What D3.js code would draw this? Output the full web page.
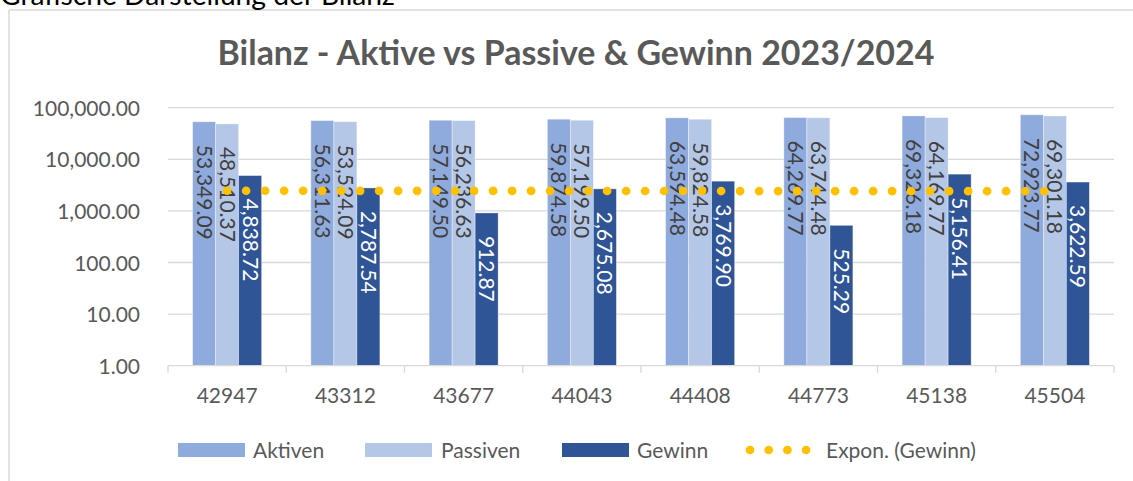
<!DOCTYPE html>
<html>
<head>
<meta charset="utf-8">
<script src="https://cdn.jsdelivr.net/npm/d3@7"></script>
<style>
  html, body { margin: 0; padding: 0; background: #ffffff; overflow: hidden; }
  svg { display: block; font-family: Lato, "Open Sans", sans-serif; }
</style>
</head>
<body>
<svg id="chart" width="1133" height="481"></svg>
<script>
// ---- data ----
const categories = ["42947", "43312", "43677", "44043", "44408", "44773", "45138", "45504"];
const aktiven  = [53349.09, 56311.63, 57149.50, 59874.58, 63594.48, 64269.77, 69326.18, 72923.77];
const passiven = [48510.37, 53524.09, 56236.63, 57199.50, 59824.58, 63744.48, 64169.77, 69301.18];
const gewinn   = [4838.72, 2787.54, 912.87, 2675.08, 3769.90, 525.29, 5156.41, 3622.59];
const seriesNames = ["Aktiven", "Passiven", "Gewinn"];
const yTicks = [1, 10, 100, 1000, 10000, 100000];
const trendName = "Expon. (Gewinn)";
const titleText = "Bilanz - Aktive vs Passive & Gewinn 2023/2024";
const captionText = "Grafische Darstellung der Bilanz";

// ---- styles ----
const colors = { Aktiven: "#8FAADC", Passiven: "#B4C7E7", Gewinn: "#2F5597" };
const labelColors = { Aktiven: "#404040", Passiven: "#404040", Gewinn: "#ffffff" };
const trendColor = "#FFC000";
const textColor = "#595959";
const gridColor = "#d9d9d9";

const seriesValues = { Aktiven: aktiven, Passiven: passiven, Gewinn: gewinn };

const svg = d3.select("#chart");
const plot = { left: 168, right: 1114, top: 107.7, bottom: 365.7 };

// chart frame: only left and top edges are inside the window
svg.append("line").attr("x1", 9).attr("x2", 1133).attr("y1", 10).attr("y2", 10)
  .attr("stroke", gridColor).attr("stroke-width", 1.5);
svg.append("line").attr("x1", 9).attr("x2", 9).attr("y1", 10).attr("y2", 481)
  .attr("stroke", gridColor).attr("stroke-width", 1.5);

// caption above chart (cut off at top, as in the reference)
const cap = svg.append("text")
  .attr("x", 0).attr("y", 5)
  .attr("fill", "#000000")
  .style("font-size", "22px")
  .text(captionText);
{
  const w = cap.node().getComputedTextLength();
  cap.style("font-size", (22 * 395 / w) + "px");
}

// title
const title = svg.append("text")
  .attr("x", 576).attr("y", 65)
  .attr("text-anchor", "middle")
  .attr("fill", textColor)
  .style("font-size", "30px").style("font-weight", "bold")
  .text(titleText);
{
  const w = title.node().getComputedTextLength();
  title.style("font-size", (30 * 717 / w) + "px");
}

// scales
const x0 = d3.scaleBand().domain(categories).range([plot.left, plot.right]).padding(0);
const x1 = d3.scaleBand().domain(seriesNames).range([0, x0.bandwidth()])
  .paddingInner(0).paddingOuter(1.07);
const y = d3.scaleLog().domain([1, 100000]).range([plot.bottom, plot.top]);

// gridlines
svg.append("g").selectAll("line")
  .data(yTicks.filter(t => t > 1))
  .join("line")
  .attr("x1", plot.left).attr("x2", plot.right)
  .attr("y1", d => y(d)).attr("y2", d => y(d))
  .attr("stroke", gridColor).attr("stroke-width", 1.3);

// y axis labels
const yAxis = d3.axisLeft(y).tickValues(yTicks)
  .tickFormat(d3.format(",.2f")).tickSize(0).tickPadding(0);
const gy = svg.append("g").attr("transform", `translate(${plot.left - 28},0)`).call(yAxis);
gy.select(".domain").remove();
gy.selectAll("text").attr("fill", textColor).style("font-size", "21px")
  .style("font-family", "Lato, 'Open Sans', sans-serif").attr("dy", "0.36em");

// bars
const groups = svg.append("g").selectAll("g")
  .data(categories)
  .join("g")
  .attr("transform", d => `translate(${x0(d)},0)`);

groups.selectAll("rect")
  .data((c, i) => seriesNames.map(s => ({ s, v: seriesValues[s][i] })))
  .join("rect")
  .attr("x", d => x1(d.s))
  .attr("width", x1.bandwidth())
  .attr("y", d => y(d.v))
  .attr("height", d => plot.bottom - y(d.v))
  .attr("fill", d => colors[d.s])
  .attr("stroke", "#ffffff").attr("stroke-opacity", 0.45).attr("stroke-width", 0.8);

// x axis
const xAxis = d3.axisBottom(x0).tickSize(0).tickPadding(0);
const gx = svg.append("g").attr("transform", `translate(0,${plot.bottom})`).call(xAxis);
gx.select(".domain").remove();
gx.selectAll("text").attr("fill", textColor).style("font-size", "21px")
  .style("font-family", "Lato, 'Open Sans', sans-serif")
  .attr("y", 30).attr("dy", "0.36em");
svg.append("line")
  .attr("x1", plot.left).attr("x2", plot.right)
  .attr("y1", plot.bottom).attr("y2", plot.bottom)
  .attr("stroke", gridColor).attr("stroke-width", 1.3);
const boundaries = categories.map(c => x0(c)).concat([x0(categories[categories.length - 1]) + x0.bandwidth()]);
svg.append("g").selectAll("line").data(boundaries).join("line")
  .attr("x1", d => d).attr("x2", d => d)
  .attr("y1", plot.bottom).attr("y2", plot.bottom + 7)
  .attr("stroke", gridColor).attr("stroke-width", 1.3);

// trendline (exponential least-squares fit on Gewinn)
const n = gewinn.length;
const xs = d3.range(1, n + 1);
const lys = gewinn.map(v => Math.log(v));
const mx = d3.mean(xs), my = d3.mean(lys);
const slope = d3.sum(xs, (xv, i) => (xv - mx) * (lys[i] - my)) / d3.sum(xs, xv => (xv - mx) ** 2);
const intercept = my - slope * mx;
const trend = xs.map((xv, i) => ({ c: categories[i], v: Math.exp(intercept + slope * xv) }));

const line = d3.line()
  .x(d => x0(d.c) + x0.bandwidth() / 2)
  .y(d => y(d.v));

// data labels
groups.selectAll("text.lbl")
  .data((c, i) => seriesNames.map(s => ({ s, v: seriesValues[s][i] })))
  .join("text")
  .attr("class", "lbl")
  .attr("transform", d => `translate(${x1(d.s) + x1.bandwidth() / 2},${y(d.v) + 23}) rotate(90)`)
  .attr("dy", "0.36em")
  .attr("fill", d => labelColors[d.s])
  .style("font-size", "21px")
  .text(d => d3.format(",.2f")(d.v));

svg.append("path")
  .datum(trend)
  .attr("d", line)
  .attr("fill", "none")
  .attr("stroke", trendColor)
  .attr("stroke-width", 8.7)
  .attr("stroke-linecap", "round")
  .attr("stroke-dasharray", "0 19");

// legend
const legY = 450;
const legendItems = [
  { name: "Aktiven", x: 178, tx: 253 },
  { name: "Passiven", x: 365, tx: 441 },
  { name: "Gewinn", x: 562, tx: 637 }
];
const leg = svg.append("g");
legendItems.forEach(it => {
  leg.append("rect").attr("x", it.x).attr("y", legY - 7).attr("width", 67).attr("height", 14)
    .attr("fill", colors[it.name]);
  leg.append("text").attr("x", it.tx).attr("y", legY).attr("dy", "0.36em")
    .attr("fill", textColor).style("font-size", "21px").text(it.name);
});
leg.append("line")
  .attr("x1", 750).attr("x2", 807).attr("y1", legY).attr("y2", legY)
  .attr("stroke", trendColor).attr("stroke-width", 8.7)
  .attr("stroke-linecap", "round").attr("stroke-dasharray", "0 18.7");
leg.append("text").attr("x", 826).attr("y", legY).attr("dy", "0.36em")
  .attr("fill", textColor).style("font-size", "21px").text(trendName);
</script>
</body>
</html>
